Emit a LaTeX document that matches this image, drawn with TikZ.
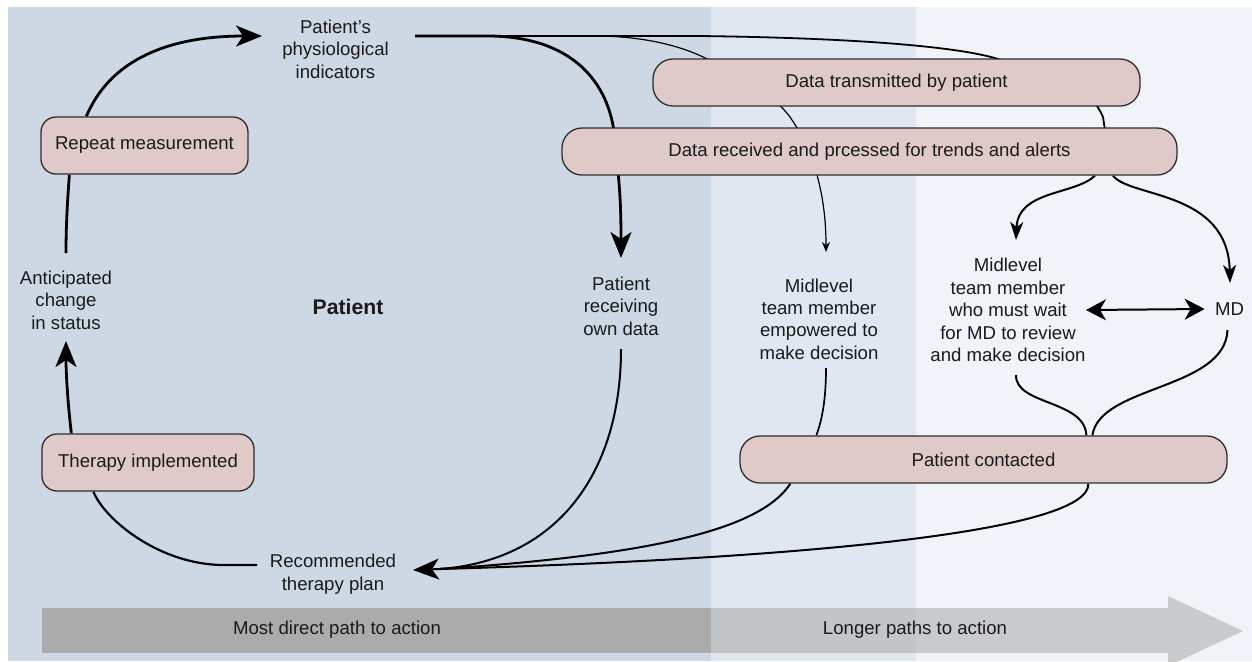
\documentclass[tikz,border=0pt]{standalone}
\usepackage{fontspec}
\setmainfont{Liberation Sans}
\usetikzlibrary{arrows.meta,calc}
\definecolor{panelA}{HTML}{CDD8E4}
\definecolor{panelB}{HTML}{E0E7F0}
\definecolor{panelC}{HTML}{F0F3F8}
\definecolor{boxfill}{HTML}{E0C9C9}
\definecolor{boxline}{HTML}{2E2E2E}
\definecolor{bandA}{HTML}{ABABAB}
\definecolor{bandB}{HTML}{B0B0B0}
\definecolor{ink}{HTML}{1A1A1A}
\newcommand{\dgfont}{\fontsize{9.3}{11.2}\selectfont}
\newcommand{\dgbold}{\fontsize{10.6}{12}\selectfont\bfseries}
\pgfdeclarelayer{bglayer}
\pgfdeclarelayer{linelayer}
\pgfsetlayers{bglayer,linelayer,main}
\begin{document}
\begin{tikzpicture}[x=0.5pt,y=-0.5pt,
  box/.style={draw=boxline,line width=0.65pt,fill=boxfill,inner sep=0pt,font=\dgfont,text=ink},
  lbl/.style={inner sep=0pt,align=center,font=\dgfont,text=ink},
  thk/.style={draw=black,line width=1.4pt},
  med/.style={draw=black,line width=1pt},
  thn/.style={draw=black,line width=0.6pt},
  headL/.style={-{Stealth[length=13pt,width=10.5pt,inset=3.5pt]}},
  headM/.style={-{Stealth[length=9pt,width=6.5pt,inset=2.5pt]}},
  headS/.style={-{Stealth[length=5pt,width=4pt,inset=1.5pt]}},
  headD/.style={{Stealth[length=10pt,width=10.5pt,inset=3pt]}-{Stealth[length=10pt,width=10.5pt,inset=3pt]}},
]
\useasboundingbox (0,0) rectangle (1252,661);

% boxes
\node[box,minimum width=103.5pt,minimum height=28.5pt,rounded corners=7.5pt] (rep) at (144.5,145.5) {Repeat measurement};
\node[box,minimum width=106pt,minimum height=28.5pt,rounded corners=7.5pt] (ther) at (148,462.5) {Therapy implemented};
\node[box,minimum width=243.5pt,minimum height=23.5pt,rounded corners=10pt] (dt) at (896.5,82.5) {Data transmitted by patient};
\node[box,minimum width=307.5pt,minimum height=23.5pt,rounded corners=10pt] (dr) at (869.5,151.5) {Data received and prcessed for trends and alerts};
\node[box,minimum width=243.5pt,minimum height=23.5pt,rounded corners=10pt] (pc) at (983.5,459.5) {Patient contacted};

% labels
\node[lbl] (phys) at (335.5,49) {Patient’s\\physiological\\indicators};
\node[lbl] (antic) at (66,300) {Anticipated\\change\\in status};
\node[lbl,font=\dgbold] (pat) at (348,307) {Patient};
\node[lbl] (recv) at (621,306) {Patient\\receiving\\own data};
\node[lbl] (mle) at (819,319) {Midlevel\\team member\\empowered to\\make decision};
\node[lbl] (mlw) at (1008,310) {Midlevel\\team member\\who must wait\\for MD to review\\and make decision};
\node[lbl] (md) at (1229.5,309) {MD};
\node[lbl] (rec) at (333,574) {Recommended\\therapy plan};

\coordinate (ps) at ($(phys)+(79.5,-13)$);
\coordinate (join) at ($(rec)+(107,-5)$);

\begin{pgfonlayer}{bglayer}
  \fill[white] (0,0) rectangle (1252,661);
  \fill[panelA] (8,7) rectangle (711,661);
  \fill[panelB] (711,7) rectangle (916,661);
  \fill[panelC] (916,7) rectangle (1252,661);
  \begin{scope}
    \clip (0,0) rectangle (1252,661);
    \fill[bandA] (42,608) rectangle (711,653);
    \fill[bandB,opacity=0.6] (711,608) -- (1168,608) -- (1168,596) -- (1243,631) -- (1168,666) -- (1168,653) -- (711,653) -- cycle;
  \end{scope}
\end{pgfonlayer}
\node[lbl,text=ink] (mdp) at (337,630) {Most direct path to action};
\node[lbl,text=ink] (lpa) at (915,630) {Longer paths to action};

\begin{pgfonlayer}{linelayer}
  % left loop
  \draw[thk,headL] ($(rep.north west)+(46,0)$) .. controls (108,65) and (160,36) .. ($(phys)+(-73.5,-13)$);
  \draw[thk] ($(antic)+(0,-47)$) .. controls (66,220) and (68,195) .. ($(rep.south west)+(29,0)$);
  \draw[thk,headL] ($(ther.north west)+(30,0)$) .. controls (68,405) and (66,375) .. ($(antic)+(0,41)$);
  \draw[med,line width=1.1pt] ($(rec)+(-76,-9)$) -- (224,565) .. controls (160,565) and (105,520) .. ($(ther.south west)+(52,0)$);
  % branches from physiological indicators
  \draw[thk,headL] (ps) -- (490,36) .. controls (570,37) and (610,80) .. (615,140) .. controls (618,175) and (621,190) .. ($(recv)+(0,-48)$);
  \draw[thn,headS] (ps) -- (600,36) .. controls (655,37) and (690,50) .. (707,59) .. controls (730,72) and (768,88) .. (790,117) .. controls (806,140) and (826,180) .. ($(mle)+(7,-67)$);
  \draw[med,line width=0.9pt] (ps) -- (700,36) .. controls (860,38) and (960,47) .. (998,59) .. controls (1060,75) and (1092,90) .. (1103,117) -- (1108,150);
  \draw[med,headM] ($(dr.south)+(225.5,0)$) .. controls (1075,195) and (1018,190) .. ($(mlw)+(8,-70)$);
  \draw[med,headM] ($(dr.south)+(243.5,0)$) .. controls (1130,198) and (1228,190) .. ($(md)+(0.5,-26)$);
  \draw[med,headD] (mlw.east) -- ($(md.west)+(-10,0)$);
  % into patient contacted
  \draw[med,line width=0.85pt] ($(mle)+(7,49)$) .. controls (826,400) and (822,420) .. ($(pc.north west)+(77,0)$);
  \draw[med] ($(mlw)+(8,65)$) .. controls (1015,405) and (1085,400) .. ($(pc.north west)+(347,0)$);
  \draw[med] ($(md)+(-2,21)$) .. controls (1225,390) and (1100,385) .. ($(pc.north west)+(353,0)$);
  % back to recommended therapy plan
  \draw[med] ($(recv)+(0,43)$) .. controls (621,470) and (560,560) .. (join);
  \draw[med] ($(pc.south west)+(51,0)$) .. controls (760,530) and (650,555) .. (join);
  \draw[med] ($(pc.south west)+(349,0)$) .. controls (1090,530) and (820,558) .. (join);
  \draw[med,headL,shorten <=-2pt] (join) -- ($(rec)+(80,-4)$);
\end{pgfonlayer}
\end{tikzpicture}
\end{document}
